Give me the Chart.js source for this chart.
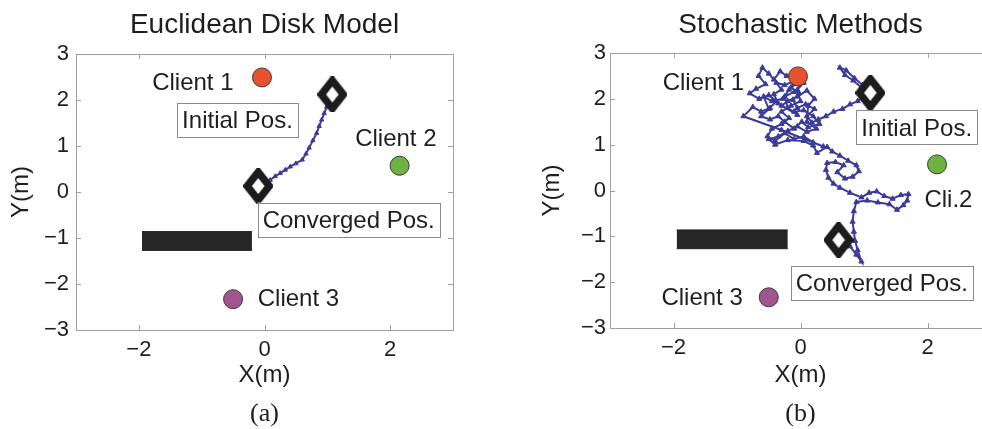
<!DOCTYPE html>
<html>
<head>
<meta charset="utf-8">
<script src="https://cdn.jsdelivr.net/npm/chart.js@4/dist/chart.umd.min.js"></script>
<style>
html, body { margin:0; padding:0; background:#fff; overflow:hidden; width:982px; height:429px; }
#a { position:absolute; left:0; top:0; }
#b { position:absolute; left:491px; top:0; }
</style>
</head>
<body>
<canvas id="a" width="491" height="429"></canvas>
<canvas id="b" width="520" height="429"></canvas>
<script>
// ---- data ----
var xTicks = [-2, 0, 2];
var xTickLabels = ['\u22122', '0', '2'];
var yTicks = [-3, -2, -1, 0, 1, 2, 3];
var yTickLabels = ['\u22123', '\u22122', '\u22121', '0', '1', '2', '3'];

var clientX = [-0.04, 2.15, -0.5];
var clientY = [2.49, 0.57, -2.33];
var clientColors = ['#e8512b', '#6db33f', '#a2548e'];

var wallX = [-1.95, -0.2];
var wallTop = -0.86;
var wallBottom = -1.27;

// (a) euclidean disk model
var diskStartX = 1.08, diskStartY = 2.12;
var diskEndX = -0.1, diskEndY = 0.13;
var diskPathX = [1.08, 1.03, 0.99, 0.95, 0.91, 0.87, 0.83, 0.77, 0.71, 0.66, 0.6, 0.5, 0.41, 0.33, 0.25, 0.17, 0.09, 0.03, -0.03, -0.1];
var diskPathY = [2.12, 1.99, 1.85, 1.71, 1.57, 1.43, 1.28, 1.12, 0.96, 0.83, 0.7, 0.62, 0.55, 0.48, 0.41, 0.34, 0.26, 0.2, 0.15, 0.13];

// (b) stochastic methods
var walkStartX = 1.1, walkStartY = 2.13;
var walkEndX = 0.6, walkEndY = -1.08;
var walkX = [1.1, 0.98, 0.85, 0.72, 0.62, 0.7, 0.83, 0.96, 1.04, 0.9, 0.78, 0.66, 0.52, 0.4, 0.28, 0.18, 0.1, 0.22, 0.08, -0.05,
  -0.12, -0.02, -0.15, -0.08, -0.22, -0.32, -0.42, -0.5, -0.6, -0.66, -0.55, -0.7, -0.8, -0.65, -0.5, -0.38, -0.48, -0.62, -0.75, -0.9,
  -0.3, 0.36, 0.2, 0.05, -0.1, -0.25, -0.4, -0.52, -0.45, -0.3, -0.18, -0.3, -0.15, 0.0, -0.05, 0.05, -0.1, -0.25, -0.2, -0.05,
  -0.35, -0.42, -0.3, -0.38, -0.25, -0.12, -0.05, 0.0, -0.18, -0.28, -0.45, -0.58, -0.5, -0.62, -0.48, -0.35, -0.25, -0.1, 0.02, 0.12,
  0.3, 0.2, 0.05, -0.1, -0.3, -0.2, -0.05, 0.1, 0.22, 0.12,
  0.1, 0.25, 0.1, -0.05, -0.2, -0.35, -0.5, -0.4, -0.2, 0.05, 0.2, 0.26, 0.42, 0.5, 0.62, 0.75, 0.88, 0.92, 0.82, 0.7,
  0.58, 0.68, 0.55, 0.42, 0.4, 0.44, 0.52, 0.62, 0.78, 0.96, 1.08, 1.2, 1.32, 1.45, 1.58, 1.7, 1.68, 1.62, 1.52, 1.4,
  1.22, 1.05, 0.88, 0.84, 0.82, 0.84, 0.86, 0.9, 0.96, 0.88, 0.78, 0.6];
var walkY = [2.13, 2.3, 2.45, 2.62, 2.68, 2.52, 2.4, 2.25, 2.1, 1.95, 1.88, 1.78, 1.72, 1.62, 1.55, 1.48, 1.62, 1.78, 1.88, 1.8,
  1.98, 2.12, 2.25, 2.42, 2.5, 2.6, 2.42, 2.55, 2.68, 2.5, 2.32, 2.22, 2.12, 2.0, 2.08, 1.95, 1.8, 1.72, 1.82, 1.62,
  1.32, 0.96, 1.05, 1.18, 1.12, 1.25, 1.08, 1.18, 1.35, 1.45, 1.58, 1.72, 1.85, 1.95, 2.2, 2.35, 2.15, 2.05, 1.8, 1.65,
  1.9, 2.1, 2.2, 2.35, 2.3, 2.38, 2.55, 2.42, 2.2, 2.0, 1.95, 2.05, 1.78, 1.62, 1.55, 1.62, 1.5, 1.35, 1.5, 1.38,
  1.45, 1.62, 1.75, 1.72, 1.85, 1.95, 2.05, 2.18, 2.0, 1.85,
  1.5, 1.35, 1.28, 1.4, 1.3, 1.18, 1.12, 1.0, 1.1, 1.08, 0.98, 0.82, 0.95, 0.85, 0.76, 0.65, 0.55, 0.42, 0.3, 0.26,
  0.4, 0.55, 0.62, 0.6, 0.45, 0.28, 0.15, 0.06, -0.05, -0.15, -0.05, -0.02, -0.12, -0.18, -0.1, -0.08, -0.22, -0.32, -0.42, -0.3,
  -0.26, -0.22, -0.25, -0.45, -0.68, -0.9, -1.1, -1.3, -1.55, -1.4, -1.22, -1.08];

function pts(xs, ys) {
  return xs.map(function (x, i) { return { x: x, y: ys[i] }; });
}

// diamond marker (a bit taller than wide, as in the figure)
var diamond = document.createElement('canvas');
diamond.width = 30; diamond.height = 36;
(function () {
  var c = diamond.getContext('2d');
  c.beginPath();
  c.moveTo(15, 4); c.lineTo(26, 18); c.lineTo(15, 32); c.lineTo(4, 18); c.closePath();
  c.fillStyle = '#fff'; c.fill();
  c.lineWidth = 7.5; c.lineJoin = 'miter'; c.strokeStyle = '#1c1c1c'; c.stroke();
})();

var ink = '#1e1e1e';
var sans = "'Liberation Sans', Arial, sans-serif";

function notesPlugin(o) {
  return {
    id: 'notes',
    afterDraw: function (chart) {
      var ctx = chart.ctx, a = chart.chartArea;
      var sx = chart.scales.x, sy = chart.scales.y;
      ctx.save();
      // axes box + inward ticks
      ctx.strokeStyle = '#a0a0a0';
      ctx.lineWidth = 1;
      ctx.strokeRect(a.left + 0.5, a.top + 0.5, a.right - a.left, a.bottom - a.top);
      ctx.beginPath();
      xTicks.forEach(function (v) {
        var px = Math.round(sx.getPixelForValue(v)) + 0.5;
        ctx.moveTo(px, a.bottom); ctx.lineTo(px, a.bottom - 5);
        ctx.moveTo(px, a.top); ctx.lineTo(px, a.top + 5);
      });
      yTicks.forEach(function (v) {
        var py = Math.round(sy.getPixelForValue(v)) + 0.5;
        ctx.moveTo(a.left, py); ctx.lineTo(a.left + 5, py);
        ctx.moveTo(a.right, py); ctx.lineTo(a.right - 5, py);
      });
      ctx.stroke();

      ctx.fillStyle = ink;
      ctx.textAlign = 'center';
      ctx.textBaseline = 'alphabetic';
      var cx = (a.left + a.right) / 2;
      ctx.font = '28px ' + sans;
      ctx.fillText(o.title, cx, 33);
      ctx.font = '24px ' + sans;
      ctx.fillText('X(m)', cx, 382);
      ctx.save();
      ctx.translate(o.yLabelX, (a.top + a.bottom) / 2);
      ctx.rotate(-Math.PI / 2);
      ctx.fillText('Y(m)', 0, 0);
      ctx.restore();
      ctx.font = "26px 'Liberation Serif', serif";
      ctx.fillText(o.caption, sx.getPixelForValue(0), 421);

      // text notes
      ctx.font = '24px ' + sans;
      o.labels.forEach(function (l) {
        var px = sx.getPixelForValue(l.x), py = sy.getPixelForValue(l.y);
        if (l.box) {
          var w = ctx.measureText(l.text).width + 10;
          ctx.fillStyle = '#fff';
          ctx.fillRect(px - w / 2, py - 17, w, 34);
          ctx.strokeStyle = '#8a8a8a';
          ctx.strokeRect(Math.round(px - w / 2) + 0.5, Math.round(py - 17) + 0.5, Math.round(w), 34);
        }
        ctx.fillStyle = ink;
        ctx.fillText(l.text, px, py + 8.6);
      });
      ctx.restore();
    }
  };
}

function makeChart(id, o) {
  return new Chart(document.getElementById(id), {
    type: 'line',
    data: {
      datasets: [
        {
          data: pts(o.pathX, o.pathY), order: 3,
          borderColor: '#3b3b99', borderWidth: 2, tension: 0,
          pointStyle: 'triangle', pointRadius: o.markR, pointBackgroundColor: '#3b3b99',
          pointBorderColor: '#3b3b99', pointBorderWidth: 1
        },
        {
          data: pts(wallX, [wallTop, wallTop]), order: 5, fill: '+1',
          backgroundColor: '#262626', borderColor: '#262626', borderWidth: 1, pointRadius: 0
        },
        {
          data: pts(wallX, [wallBottom, wallBottom]), order: 5, fill: false,
          borderColor: '#262626', borderWidth: 1, pointRadius: 0
        },
        {
          data: pts(clientX, clientY), order: 1, showLine: false,
          pointRadius: 9.5, pointBackgroundColor: clientColors,
          pointBorderColor: '#3a3a3a', pointBorderWidth: 1
        },
        {
          data: pts(o.diamX, o.diamY), order: 2, showLine: false,
          pointStyle: diamond
        }
      ]
    },
    options: {
      responsive: false,
      animation: false,
      devicePixelRatio: 1,
      layout: { padding: { left: 0, top: o.top, right: o.right, bottom: 0 } },
      plugins: { legend: { display: false }, tooltip: { enabled: false } },
      scales: {
        x: {
          type: 'linear', min: -3, max: 3,
          afterBuildTicks: function (s) { s.ticks = xTicks.map(function (v) { return { value: v }; }); },
          afterFit: function (s) { s.height = o.bottomH; },
          grid: { display: false, drawTicks: false }, border: { display: false },
          ticks: {
            autoSkip: false, maxRotation: 0, padding: 7, color: ink,
            font: { family: sans, size: 22 },
            callback: function (v, i) { return xTickLabels[i]; }
          }
        },
        y: {
          type: 'linear', min: -3, max: 3,
          afterBuildTicks: function (s) { s.ticks = yTicks.map(function (v) { return { value: v }; }); },
          afterFit: function (s) { s.width = o.leftW; },
          grid: { display: false, drawTicks: false }, border: { display: false },
          ticks: {
            autoSkip: false, padding: o.yPad, color: ink,
            font: { family: sans, size: 22 },
            callback: function (v, i) { return yTickLabels[i]; }
          }
        }
      }
    },
    plugins: [notesPlugin(o)]
  });
}

makeChart('a', {
  title: 'Euclidean Disk Model', caption: '(a)', yLabelX: 28,
  top: 54, right: 38, leftW: 76, bottomH: 99, yPad: 7, markR: 2.5,
  pathX: diskPathX, pathY: diskPathY,
  diamX: [diskStartX, diskEndX], diamY: [diskStartY, diskEndY],
  labels: [
    { text: 'Client 1', x: -1.14, y: 2.4 },
    { text: 'Initial Pos.', x: -0.43, y: 1.57, box: true },
    { text: 'Client 2', x: 2.09, y: 1.18 },
    { text: 'Converged Pos.', x: 1.34, y: -0.6, box: true },
    { text: 'Client 3', x: 0.54, y: -2.29 }
  ]
});

makeChart('b', {
  title: 'Stochastic Methods', caption: '(b)', yLabelX: 68,
  top: 53, right: 20, leftW: 119, bottomH: 101, yPad: 4, markR: 3,
  pathX: walkX, pathY: walkY,
  diamX: [walkStartX, walkEndX], diamY: [walkStartY, walkEndY],
  labels: [
    { text: 'Client 1', x: -1.53, y: 2.39 },
    { text: 'Initial Pos.', x: 1.83, y: 1.38, box: true },
    { text: 'Cli.2', x: 2.33, y: -0.17 },
    { text: 'Converged Pos.', x: 1.28, y: -2.01, box: true },
    { text: 'Client 3', x: -1.55, y: -2.31 }
  ]
});
</script>
</body>
</html>
